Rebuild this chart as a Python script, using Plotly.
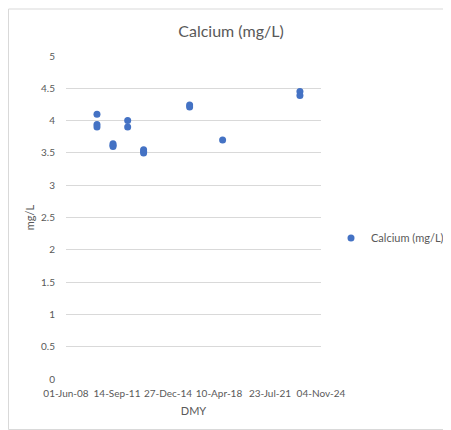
import plotly.graph_objects as go

# Data
dates = [
    "2010-05-31", "2010-05-31", "2010-05-31",
    "2011-06-12", "2011-06-12", "2011-06-12",
    "2012-05-22", "2012-05-22",
    "2013-06-01", "2013-06-01", "2013-06-01",
    "2016-05-19", "2016-05-19",
    "2018-07-04",
    "2023-06-27", "2023-06-27",
]
calcium = [
    4.10, 3.94, 3.90,
    3.64, 3.62, 3.60,
    4.00, 3.90,
    3.55, 3.52, 3.50,
    4.24, 4.21,
    3.70,
    4.45, 4.39,
]
x_tickvals = ["2008-06-01", "2011-09-14", "2014-12-27", "2018-04-10", "2021-07-23", "2024-11-04"]
x_ticktext = ["01-Jun-08", "14-Sep-11", "27-Dec-14", "10-Apr-18", "23-Jul-21", "04-Nov-24"]
y_tickvals = [0, 0.5, 1, 1.5, 2, 2.5, 3, 3.5, 4, 4.5, 5]
y_ticktext = ["0", "0.5", "1", "1.5", "2", "2.5", "3", "3.5", "4", "4.5", "5"]

FONT = "Lato"
GREY = "#595959"

fig = go.Figure()
fig.add_trace(go.Scatter(
    x=dates, y=calcium, mode="markers", name="Calcium (mg/L)",
    marker=dict(color="#4472C4", size=7),
))

# page body has an 8px margin; figure is sized/offset to compensate
OFF = 8
W, H = 451 - OFF, 430 - OFF
L, R, T, B = 66 - OFF, 321 - OFF, 56 - OFF, 379 - OFF
pw, ph = R - L, B - T

def px_x(p):
    return (p - OFF - L) / pw

def px_y(p):
    return (B - (p - OFF)) / ph

fig.update_layout(
    width=W, height=H,
    margin=dict(l=L, r=W - R, t=T, b=H - B, autoexpand=False),
    paper_bgcolor="white", plot_bgcolor="white",
    font=dict(family=FONT, color=GREY, size=10),
    title=dict(text="Calcium (mg/L)", x=(231 - OFF) / W, xref="container", xanchor="center",
               y=1 - (31 - OFF) / H, yref="container", yanchor="middle",
               font=dict(size=16, color=GREY, family=FONT)),
    showlegend=True,
    legend=dict(x=px_x(331), xref="paper", xanchor="left", y=px_y(238), yanchor="middle",
                font=dict(size=11, color=GREY), bgcolor="rgba(0,0,0,0)",
                itemwidth=30, tracegroupgap=0),
    xaxis=dict(
        type="date", range=["2008-06-01", "2024-11-04"],
        tickmode="array", tickvals=x_tickvals, ticktext=x_ticktext, tickangle=0,
        showgrid=False, zeroline=False, showline=False, automargin=False,
        ticks="outside", ticklen=5, tickcolor="rgba(0,0,0,0)",
        tickfont=dict(size=10, color=GREY),
        title=dict(text="DMY", font=dict(size=11, color=GREY), standoff=9),
    ),
    yaxis=dict(
        range=[0, 5], automargin=False,
        tickmode="array", tickvals=y_tickvals, ticktext=y_ticktext,
        showgrid=True, gridcolor="#d9d9d9", gridwidth=1,
        zeroline=False, showline=False,
        ticks="outside", ticklen=8, tickcolor="rgba(0,0,0,0)",
        tickfont=dict(size=10, color=GREY),
        title=dict(text="mg/L", font=dict(size=11, color=GREY), standoff=4),
    ),
    shapes=[dict(type="rect", xref="paper", yref="paper",
                 x0=px_x(8.5), x1=px_x(470), y0=px_y(429.5), y1=px_y(9),
                 line=dict(color="#d9d9d9", width=1), fillcolor="rgba(0,0,0,0)",
                 layer="below")],
)

fig.write_html("out.html")
